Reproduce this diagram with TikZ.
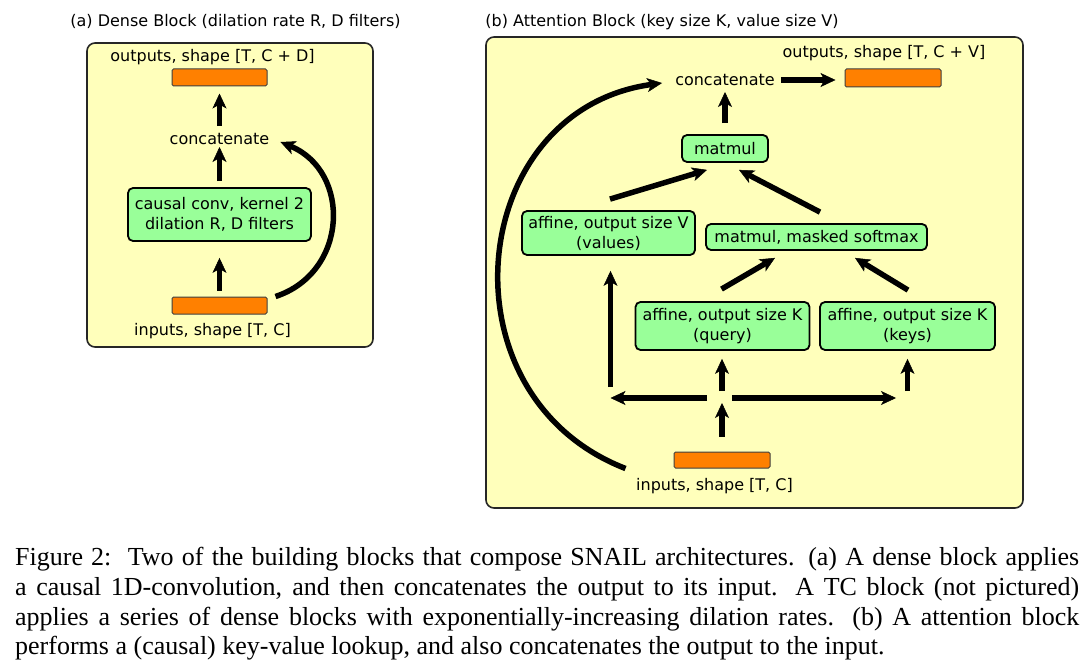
\documentclass[tikz,border=0pt]{standalone}
\usepackage{fontspec}
\setmainfont{Liberation Serif}
\newfontfamily\diagfont{DejaVu Sans}
\usetikzlibrary{arrows.meta}
\definecolor{panelyellow}{HTML}{FFFFBB}
\definecolor{boxgreen}{HTML}{99FF99}
\definecolor{blockorange}{HTML}{FF8000}
\begin{document}
\begin{tikzpicture}[x=1pt,y=-1pt,
  every node/.style={font=\diagfont\fontsize{16}{20}\selectfont, inner sep=0pt},
  panel/.style={draw=black!85, line width=1.6pt, fill=panelyellow, rounded corners=8pt},
  greenbox/.style={draw=black, line width=1.8pt, fill=boxgreen, rounded corners=5pt, align=center},
  tensor/.style={draw=black!75, line width=1pt, fill=blockorange, rounded corners=1.5pt},
  lbl/.style={anchor=base},
  captionline/.style={anchor=base west, font=\fontsize{26}{30}\selectfont},
  arr/.style={line width=5.5pt, -{Stealth[length=15pt,width=14pt,inset=4pt,line width=0.5pt]}},
]
\useasboundingbox (0,0) rectangle (1088,669);
\fill[white] (0,0) rectangle (1088,669);

% ---------- panel (a) ----------
\draw[panel] (87,43) rectangle (373,347);
\node[lbl] (ltitle) at (235.5,27) {(a) Dense Block (dilation rate R, D filters)};
\node[lbl] (loutl) at (212.5,62) {outputs, shape [T, C + D]};
\node[tensor, minimum width=95pt, minimum height=17pt] (lout) at (219.5,77.5) {};
\node[lbl] (lcat) at (219.5,144) {concatenate};
\node[greenbox, minimum width=183pt, minimum height=53pt] (lconv) at (219.5,214.5) {causal conv, kernel 2\\dilation R, D filters};
\node[tensor, minimum width=95pt, minimum height=17pt] (lin) at (219.5,305.5) {};
\node[lbl] (linl) at (212.5,335) {inputs, shape [T, C]};

\draw[arr] ([shift={(0,-6)}]lin.north) -- ([shift={(0,16)}]lconv.south);
\draw[arr] ([shift={(0,-6)}]lconv.north) -- ([shift={(0,3)}]lcat.base);
\draw[arr] ([shift={(0,-18)}]lcat.base) -- ([shift={(0,7)}]lout.south);
\draw[arr] ([shift={(8,0)}]lin.north east) .. controls +(73,-24) and +(71,29.5) .. ([shift={(11,-2)}]lcat.base east);

% ---------- panel (b) ----------
\draw[panel] (486,37) rectangle (1023,508);
\node[lbl] (rtitle) at (662,27) {(b) Attention Block (key size K, value size V)};
\node[lbl] (routl) at (884,58) {outputs, shape [T, C + V]};
\node[tensor, minimum width=96pt, minimum height=18pt] (rout) at (893,78) {};
\node[lbl] (rcat) at (725,85) {concatenate};
\node[greenbox, minimum width=86pt, minimum height=27pt] (rmat) at (725,148.5) {matmul};
\node[greenbox, minimum width=173pt, minimum height=44pt] (rval) at (608.5,233) {affine, output size V\\(values)};
\node[greenbox, minimum width=221pt, minimum height=26pt] (rsoft) at (816.5,237) {matmul, masked softmax};
\node[greenbox, minimum width=174pt, minimum height=48pt] (rq) at (722.5,326) {affine, output size K\\(query)};
\node[greenbox, minimum width=175pt, minimum height=48pt] (rk) at (907.5,326) {affine, output size K\\(keys)};
\node[tensor, minimum width=96pt, minimum height=16pt] (rin) at (722,460) {};
\node[lbl] (rinl) at (714.5,490) {inputs, shape [T, C]};
\coordinate (split) at (722,398);
\coordinate (lturn) at (610.5,398);
\coordinate (rturn) at (907.5,398);

\draw[arr] ([shift={(6,-5)}]rcat.base east) -- ([shift={(-9,2)}]rout.west);
\draw[arr] ([shift={(0,-11)}]rmat.north) -- ([shift={(0,7)}]rcat.base);
\draw[arr] ([shift={(1.5,-11)}]rval.north) -- ([shift={(-18,7)}]rmat.south);
\draw[arr] ([shift={(3.5,-11)}]rsoft.north) -- ([shift={(14,7)}]rmat.south);
\draw[arr] ([shift={(-1,-12)}]rq.north) -- ([shift={(-41.5,7)}]rsoft.south);
\draw[arr] ([shift={(0.5,-11)}]rk.north) -- ([shift={(38.5,7)}]rsoft.south);
\draw[arr] ([shift={(0,-15)}]rin.north) -- ([shift={(0,5)}]split);
\draw[arr] ([shift={(-15,0)}]split) -- (lturn);
\draw[arr] ([shift={(0,-11)}]lturn) -- ([shift={(2,15)}]rval.south);
\draw[arr] ([shift={(10,0)}]split) -- ([shift={(-11.5,0)}]rturn);
\draw[arr] ([shift={(0,-7)}]split) -- ([shift={(-0.5,8)}]rq.south);
\draw[arr] ([shift={(0,-7)}]rturn) -- ([shift={(0,8)}]rk.south);
\draw[arr] ([shift={(-48,0)}]rin.south west) .. controls +(-188,-73) and +(-196,27) .. ([shift={(-13,-2)}]rcat.base west);

% ---------- caption ----------
\node[captionline] (cap1) at (15,565) {\makebox[1064pt][s]{Figure 2:\ \ Two of the building blocks that compose SNAIL architectures. (a) A dense block applies}};
\node[captionline] (cap2) at (15,595) {\makebox[1064pt][s]{a causal 1D-convolution, and then concatenates the output to its input. A TC block (not pictured)}};
\node[captionline] (cap3) at (15,625) {\makebox[1064pt][s]{applies a series of dense blocks with exponentially-increasing dilation rates. (b) A attention block}};
\node[captionline] (cap4) at (15,654) {performs a (causal) key-value lookup, and also concatenates the output to the input.};
\end{tikzpicture}
\end{document}
